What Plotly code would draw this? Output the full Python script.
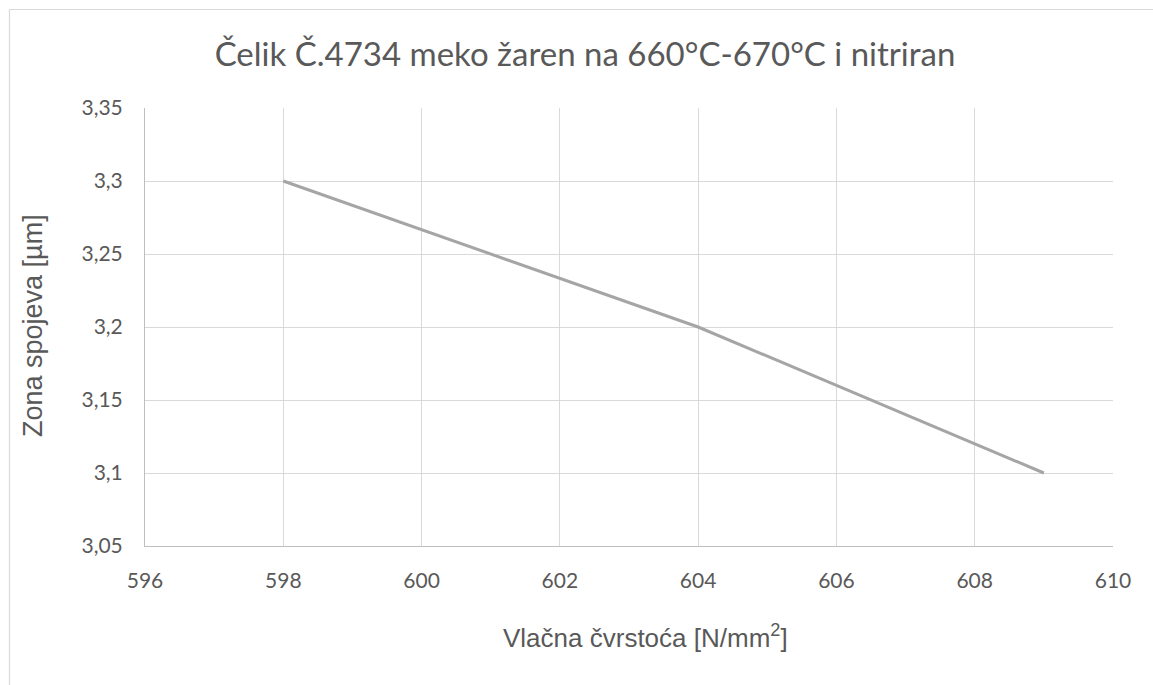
import plotly.graph_objects as go

# Tensile strength vs. bonding zone thickness
strength = [598, 604, 609]
zone = [3.3, 3.2, 3.1]

x_ticks = [596, 598, 600, 602, 604, 606, 608, 610]
y_ticks = [3.05, 3.1, 3.15, 3.2, 3.25, 3.3, 3.35]
y_tick_labels = ["3,05", "3,1", "3,15", "3,2", "3,25", "3,3", "3,35"]

W, H = 1153, 685
L, R, T, B = 145, 40, 108, 139
pw, ph = W - L - R, H - T - B


def px_x(v):
    return (v - L) / pw


def px_y(v):
    return (H - B - v) / ph


fig = go.Figure()
fig.add_trace(go.Scatter(
    x=strength, y=zone, mode="lines",
    line=dict(color="#a5a5a5", width=3),
    showlegend=False, hoverinfo="skip",
))

tick_font = dict(family="Lato, Open Sans, sans-serif", size=21, color="#595959")
axis_title_font = dict(family="Liberation Sans, Arial, sans-serif", size=26, color="#595959")

fig.update_layout(
    width=W, height=H,
    margin=dict(l=L, r=R, t=T, b=B),
    paper_bgcolor="white", plot_bgcolor="white",
    separators=", ",
    title=dict(
        text="Čelik Č.4734 meko žaren na 660°C-670°C i nitriran",
        font=dict(family="Lato, Open Sans, sans-serif", size=33, color="#595959"),
        x=585 / W, xanchor="center", y=1 - 54 / H, yanchor="middle",
    ),
    xaxis=dict(
        range=[596, 610], tickvals=x_ticks,
        showgrid=True, gridcolor="#d9d9d9", gridwidth=1,
        showline=True, linecolor="#bfbfbf", linewidth=1,
        ticks="", tickfont=tick_font, ticklabelstandoff=16,
        zeroline=False,
    ),
    yaxis=dict(
        range=[3.05, 3.35], tickvals=y_ticks, ticktext=y_tick_labels,
        showgrid=True, gridcolor="#d9d9d9", gridwidth=1,
        showline=True, linecolor="#bfbfbf", linewidth=1,
        ticks="", tickfont=tick_font, ticklabelstandoff=17,
        zeroline=False,
    ),
    annotations=[
        dict(text="Zona spojeva [µm]", textangle=-90,
             x=px_x(33), y=px_y(326), xref="paper", yref="paper",
             xanchor="center", yanchor="middle", showarrow=False,
             font=dict(family="Liberation Sans, Arial, sans-serif", size=27, color="#595959")),
        dict(text="Vlačna čvrstoća [N/mm<sup>2</sup>]",
             x=px_x(645), y=px_y(636), xref="paper", yref="paper",
             xanchor="center", yanchor="middle", showarrow=False,
             font=axis_title_font),
    ],
    shapes=[
        dict(type="line", xref="paper", yref="paper",
             x0=px_x(9.5), y0=px_y(9.5), x1=px_x(W + 5), y1=px_y(9.5),
             line=dict(color="#d9d9d9", width=1.2)),
        dict(type="line", xref="paper", yref="paper",
             x0=px_x(9.5), y0=px_y(9.5), x1=px_x(9.5), y1=px_y(H + 5),
             line=dict(color="#d9d9d9", width=1.2)),
    ],
)

fig.write_html("out.html")
